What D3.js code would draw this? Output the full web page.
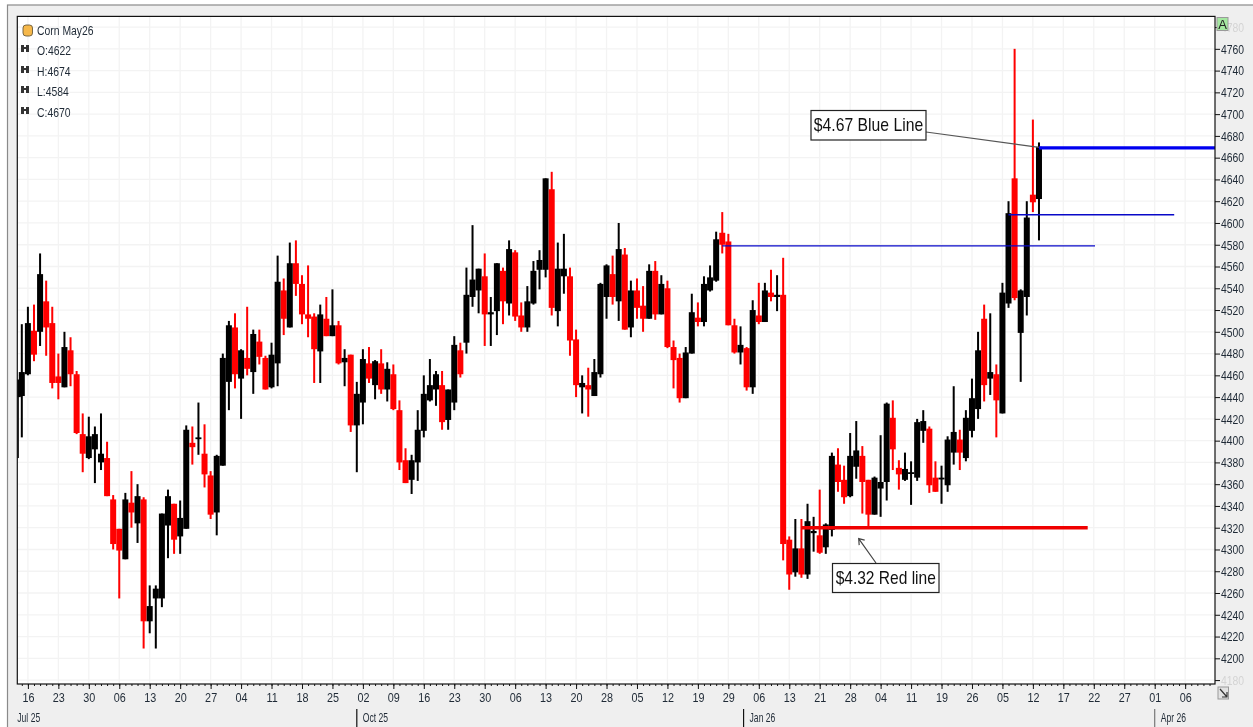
<!DOCTYPE html>
<html><head><meta charset="utf-8">
<script src="https://cdnjs.cloudflare.com/ajax/libs/d3/7.8.5/d3.min.js"></script>
<style>
html,body{margin:0;padding:0;background:#fff;overflow:hidden}
svg{display:block;filter:blur(0.3px)}
text{font-family:"Liberation Sans",Arial,sans-serif;fill:#1f2a36}
</style></head><body>
<svg id="c" width="1253" height="727"></svg>
<script>
const symbol = "Corn May26";
const opens = [
4440,4441,4461,4501,4500,4528,4508,4459,4449,4483,
4461,4406,4384,4392,4380,4384,4346,4319,4291,4343,
4324,4346,4234,4255,4255,4322,4342,4312,4319,4398,
4402,4388,4368,4334,4377,4454,4504,4457,4476,4463,
4491,4476,4449,4471,4538,4504,4563,4544,4516,4514,
4482,4512,4496,4506,4472,4479,4414,4435,4471,4451,
4471,4447,4461,4428,4382,4364,4380,4409,4437,4447,
4451,4419,4435,4483,4490,4532,4538,4551,4516,4519,
4556,4526,4573,4515,4504,4526,4557,4557,4631,4519,
4551,4551,4493,4449,4451,4441,4461,4532,4553,4528,
4571,4504,4538,4524,4512,4556,4516,4540,4486,4476,
4439,4480,4513,4509,4538,4547,4591,4583,4506,4481,
4485,4449,4515,4509,4536,4532,4534,4309,4279,4301,
4277,4315,4313,4302,4318,4378,4364,4349,4376,4386,
4364,4332,4356,4362,4421,4375,4364,4370,4366,4409,
4411,4366,4365,4359,4389,4401,4384,4409,4429,4512,
4457,4461,4425,4526,4641,4499,4532,4626,4622];
const highs = [
4456,4507,4523,4525,4572,4547,4523,4480,4500,4495,
4464,4425,4422,4413,4425,4399,4350,4319,4352,4372,
4360,4348,4267,4267,4333,4355,4342,4345,4414,4413,
4435,4415,4372,4387,4480,4510,4517,4484,4523,4502,
4502,4478,4490,4570,4549,4582,4584,4552,4561,4517,
4525,4532,4539,4510,4484,4479,4454,4484,4486,4474,
4484,4472,4470,4437,4393,4387,4428,4460,4475,4464,
4464,4447,4496,4490,4559,4598,4558,4572,4532,4563,
4559,4584,4575,4527,4542,4565,4575,4641,4647,4582,
4590,4559,4502,4460,4467,4475,4545,4562,4570,4600,
4577,4547,4549,4542,4562,4565,4552,4547,4492,4480,
4486,4535,4527,4551,4561,4592,4610,4590,4512,4505,
4486,4529,4545,4545,4557,4552,4568,4312,4328,4328,
4342,4330,4355,4324,4389,4393,4377,4407,4418,4395,
4364,4367,4405,4435,4437,4382,4389,4381,4420,4428,
4413,4381,4377,4404,4450,4410,4428,4457,4500,4525,
4517,4470,4545,4620,4760,4539,4620,4695,4674];
const lows = [
4384,4403,4460,4473,4487,4478,4448,4438,4449,4450,
4406,4371,4383,4361,4373,4349,4300,4255,4291,4320,
4306,4209,4223,4209,4247,4292,4296,4296,4319,4378,
4387,4357,4328,4313,4377,4428,4448,4420,4460,4443,
4470,4447,4448,4450,4497,4504,4533,4507,4495,4453,
4453,4496,4496,4470,4450,4408,4371,4415,4453,4438,
4443,4436,4428,4373,4361,4351,4363,4403,4436,4432,
4410,4410,4428,4458,4480,4523,4517,4487,4487,4497,
4507,4515,4510,4500,4500,4525,4539,4550,4515,4505,
4535,4478,4440,4425,4422,4441,4458,4512,4525,4510,
4502,4495,4512,4500,4512,4511,4516,4485,4448,4435,
4439,4480,4505,4505,4537,4546,4572,4506,4480,4470,
4446,4443,4507,4509,4528,4519,4290,4263,4275,4274,
4273,4298,4296,4296,4312,4353,4342,4348,4365,4333,
4321,4332,4330,4345,4373,4355,4363,4341,4363,4398,
4352,4353,4342,4353,4378,4373,4381,4403,4420,4436,
4442,4403,4425,4522,4529,4454,4515,4610,4584];
const closes = [
4456,4463,4508,4479,4553,4504,4453,4453,4486,4461,
4407,4388,4404,4406,4388,4349,4305,4299,4346,4334,
4349,4234,4248,4264,4333,4349,4309,4329,4410,4394,
4403,4369,4332,4386,4476,4506,4461,4483,4466,4498,
4477,4447,4479,4546,4512,4563,4544,4516,4512,4484,
4516,4496,4506,4471,4476,4414,4443,4475,4457,4473,
4447,4466,4429,4380,4361,4382,4410,4443,4451,4461,
4417,4447,4488,4461,4534,4548,4558,4516,4518,4563,
4528,4576,4514,4504,4528,4556,4566,4641,4522,4558,
4558,4492,4451,4453,4447,4463,4544,4561,4532,4576,
4502,4538,4522,4512,4556,4516,4544,4486,4474,4439,
4481,4518,4509,4544,4550,4585,4580,4506,4481,4488,
4449,4520,4509,4538,4532,4534,4305,4277,4301,4277,
4326,4317,4297,4323,4386,4362,4348,4386,4391,4362,
4332,4366,4362,4434,4392,4369,4374,4371,4417,4418,
4359,4353,4366,4401,4408,4389,4421,4439,4483,4451,
4463,4437,4536,4609,4531,4538,4605,4619,4670];

// x-axis: one label every five sessions, slot 0 being the "16" of July
const weekLabels = ["16","23","30","06","13","20","27","04","11","18","25","02","09","16","23","30","06","13","20","28","05","12","19","29","06","13","21","28","04","11","19","26","05","12","17","22","27","01","06"];
const monthLabels = ["Jul 25","Oct 25","Jan 26","Apr 26"];
const monthSlots = [-1.74,54,117.5,185];
const priceTicks = d3.range(4180,4781,20);

// trend lines drawn by hand on the chart: price, first slot, last slot
const lineNames  = ["thick blue","thin blue 1","thin blue 2","thick red"];
const linePrices = [4669,4607.5,4579,4320];
const lineStart  = [166,161,114,127];
const lineEnd    = [194.9,188.2,175.2,174];
const lineColors = ["#0000f0","#0808c8","#0808c8","#f00000"];
const lineWidths = [3.4,1.4,1.4,3.4];

const W=1253,H=727, L=17.3,R=1215,T=16.4,B=684;
const x = d3.scaleLinear().domain([-1.74,194.9]).range([L,R]);
const y = d3.scaleLinear().domain([4176.4,4789.8]).range([B,T]);
const slot = k => k===0 ? -1.65 : k-2;   // first bar is cut by the plot's edge

// the reference's text is horizontally condensed
function squeeze(sel,f){
  sel.each(function(){
    const len=this.getComputedTextLength();
    d3.select(this).attr("textLength",len*f).attr("lengthAdjust","spacingAndGlyphs");
  });
  return sel;
}

const svg = d3.select("#c");
svg.append("rect").attr("x",7.5).attr("y",5).attr("width",W).attr("height",H)
  .attr("fill","#efefef").attr("stroke","#8a8a8a").attr("stroke-width",1.2);
svg.append("rect").attr("x",L).attr("y",T).attr("width",R-L).attr("height",B-T).attr("fill","#fff");

const defs = svg.append("defs");
defs.append("clipPath").attr("id","plot").append("rect").attr("x",L).attr("y",T).attr("width",R-L).attr("height",B-T);

// grid
const majorSlots = weekLabels.map((_,i)=>i*5);
const grid = svg.append("g").attr("stroke","#f3f3f3").attr("stroke-width",1.3);
grid.selectAll("line.v").data(majorSlots).join("line").attr("class","v")
  .attr("x1",d=>x(d)).attr("x2",d=>x(d)).attr("y1",T).attr("y2",B);
grid.selectAll("line.h").data(priceTicks).join("line").attr("class","h")
  .attr("x1",L).attr("x2",R).attr("y1",d=>y(d)).attr("y2",d=>y(d));

// candles
const g = svg.append("g").attr("clip-path","url(#plot)");
const colorOf = k => closes[k]>=opens[k] ? "#000" : "#ff0000";
const idx = d3.range(opens.length);
const bars = g.selectAll("g.bar").data(idx).join("g").attr("class","bar").attr("fill",colorOf);
bars.append("rect").attr("x",k=>x(slot(k))-1).attr("width",2)
  .attr("y",k=>y(highs[k])).attr("height",k=>y(lows[k])-y(highs[k]));
bars.append("rect").attr("x",k=>x(slot(k))-3).attr("width",6)
  .attr("y",k=>y(Math.max(opens[k],closes[k])))
  .attr("height",k=>Math.max(1.8,Math.abs(y(opens[k])-y(closes[k]))));

// trend lines
g.selectAll("line.t").data(lineNames).join("line").attr("class","t")
  .attr("x1",(d,i)=>x(lineStart[i])).attr("x2",(d,i)=>x(lineEnd[i]))
  .attr("y1",(d,i)=>y(linePrices[i])).attr("y2",(d,i)=>y(linePrices[i]))
  .attr("stroke",(d,i)=>lineColors[i]).attr("stroke-width",(d,i)=>lineWidths[i]);

// axes
const yAxis = d3.axisRight(y).tickValues(priceTicks).tickSize(5).tickPadding(1).tickFormat(d3.format("d"));
const ya = svg.append("g").attr("transform",`translate(${R},0)`).call(yAxis);
ya.select(".domain").remove();
ya.selectAll("line").attr("stroke","#111").attr("stroke-width",1);
ya.selectAll("text").style("font-size","13.5px").style("font-family",'"Liberation Sans",sans-serif')
  .style("fill",d=>(d===4780||d===4180)?"#d4d4d4":"#1f2a36");
squeeze(ya.selectAll("text"),0.77);

const xMinor = d3.axisBottom(x).tickValues(d3.range(-1,195)).tickSize(2).tickFormat("");
const xm = svg.append("g").attr("transform",`translate(0,${B})`).call(xMinor);
xm.select(".domain").remove();
xm.selectAll("line").attr("stroke","#111");
const xMajor = d3.axisBottom(x).tickValues(majorSlots).tickSize(5).tickPadding(3).tickFormat((d,i)=>weekLabels[i]);
const xa = svg.append("g").attr("transform",`translate(0,${B})`).call(xMajor);
xa.select(".domain").remove();
xa.selectAll("line").attr("stroke","#111");
xa.selectAll("text").style("font-size","13.5px").style("font-family",'"Liberation Sans",sans-serif').style("fill","#1f2a36");
squeeze(xa.selectAll("text"),0.8);

// month row
monthLabels.forEach((m,i)=>{
  const px=x(monthSlots[i]);
  if(i>0) svg.append("line").attr("x1",px).attr("x2",px).attr("y1",709).attr("y2",727).attr("stroke",i==3?"#777":"#111").attr("stroke-width",1.2);
  squeeze(svg.append("text").attr("x",i==0?px:px+6).attr("y",722).attr("font-size","13px").text(m),0.66);
});

// frame
svg.append("rect").attr("x",L).attr("y",T).attr("width",R-L).attr("height",B-T)
  .attr("fill","none").attr("stroke","#111").attr("stroke-width",1.2);

// legend
const last = opens.length-1;
const legendTexts = [symbol,`O:${opens[last]}`,`H:${highs[last]}`,`L:${lows[last]}`,`C:${closes[last]}`];
const legendY = [30,50,71,91,112];
legendTexts.forEach((t,i)=>{
  squeeze(svg.append("text").attr("x",37).attr("y",legendY[i]+4.5).attr("font-size","13.5px").text(t),0.77);
  if(i===0){
    svg.append("rect").attr("x",23).attr("y",25).attr("width",9.5).attr("height",11).attr("rx",3)
      .attr("fill","#f6b84a").attr("stroke","#6a5a3a").attr("stroke-width",0.9);
  } else {
    const gi=svg.append("g").attr("transform",`translate(21,${legendY[i]-6})`).attr("fill","#333");
    gi.append("rect").attr("x",0).attr("y",1).attr("width",3).attr("height",7);
    gi.append("rect").attr("x",5).attr("y",1).attr("width",3).attr("height",7);
    gi.append("rect").attr("x",2.5).attr("y",3).attr("width",3).attr("height",2);
  }
});

// buttons
svg.append("rect").attr("x",1217).attr("y",17.5).attr("width",11).attr("height",13).attr("fill","#a4e8a0").attr("stroke","#9a9a9a");
svg.append("text").attr("x",1222.5).attr("y",29).attr("text-anchor","middle").attr("font-size","13px").style("fill","#222").text("A");
svg.append("rect").attr("x",1218).attr("y",687).attr("width",10.5).attr("height",12).attr("fill","#e2e2e2").attr("stroke","#999");
svg.append("path").attr("d","M1220 689 L1227 697 M1227 692 V697 H1222").attr("fill","none").attr("stroke","#333").attr("stroke-width",1.2);

// callouts
function callout(txt,bx,by,bw,bh,f){
  svg.append("rect").attr("x",bx).attr("y",by).attr("width",bw).attr("height",bh)
    .attr("fill","#fff").attr("stroke","#222").attr("stroke-width",1.2);
  squeeze(svg.append("text").attr("x",bx+bw/2).attr("y",by+bh/2+6.2).attr("text-anchor","middle")
    .attr("font-size","18.5px").style("fill","#111").text(txt),f);
}
svg.append("line").attr("x1",926).attr("y1",132).attr("x2",x(166)).attr("y2",y(4669)-0.5).attr("stroke","#555").attr("stroke-width",1.2);
callout("$4.67 Blue Line",811,110.5,115,29.5,0.85);
const tipX=x(136.4), tipY=y(4310);
svg.append("path").attr("d",`M876 563 L${tipX} ${tipY} M${tipX+6} ${tipY+1.5} L${tipX} ${tipY} L${tipX+0.5} ${tipY+6.5}`)
  .attr("fill","none").attr("stroke","#444").attr("stroke-width",1.2);
callout("$4.32 Red line",832.5,563.5,106.5,29,0.84);
</script>
</body></html>
